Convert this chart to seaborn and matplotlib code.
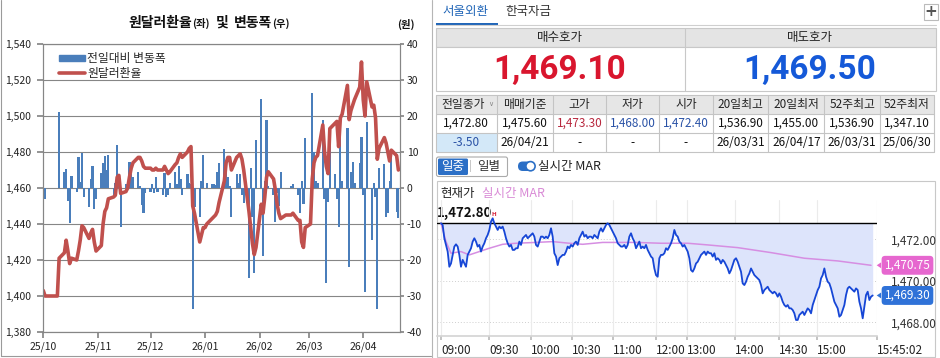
import numpy as np
import pandas as pd
import matplotlib
matplotlib.use("Agg")
import matplotlib.pyplot as plt
import matplotlib.dates as mdates
from matplotlib.patches import Rectangle, FancyBboxPatch, Patch, Polygon
from matplotlib.lines import Line2D
from matplotlib.transforms import blended_transform_factory
import seaborn as sns

# ---- daily data (left chart) ----
oct_rate = [1403, 1400, 1400, 1400, 1400, 1400, 1400, 1421, 1424, 1431, 1425, 1418, 1421, 1420,
            1425, 1431, 1439, 1438, 1432, 1435, 1437, 1430, 1425]
nov_rate = [1428, 1440, 1447, 1449, 1454, 1455, 1456, 1466, 1467, 1457, 1458, 1460, 1466, 1471,
            1474, 1477, 1477, 1475, 1472, 1471]
dec_rate = [1471, 1470, 1470, 1471, 1470, 1470, 1472, 1470, 1468, 1469, 1473, 1474, 1477, 1479,
            1477, 1480, 1482, 1483, 1450, 1446, 1430, 1434, 1438]
jan_rate = [1438, 1440, 1443, 1444, 1445, 1447, 1452, 1464, 1474, 1477, 1477, 1470, 1477, 1478,
            1479, 1476, 1470, 1447, 1438, 1429, 1423, 1427]
feb_rate = [1451, 1446, 1455, 1466, 1469, 1465, 1459, 1451, 1446, 1443, 1445, 1445, 1445, 1445,
            1446, 1442, 1442, 1430, 1427, 1438]
mar_rate = [1440, 1465, 1474, 1477, 1478, 1495, 1480, 1472, 1468, 1493, 1496, 1497, 1483, 1499,
            1501, 1517, 1498, 1503, 1506, 1509, 1516, 1530]
apr_rate = [1509, 1500, 1519, 1505, 1506, 1499, 1476, 1482, 1488, 1485, 1480, 1475, 1481, 1478, 1470]

oct_chg = [0, -3.1, 0, 0, 0, 0, 0, 21.1, 4.5, 5.2, -3.5, -9.8, 3.3, -1.0, 8.5, 1.8, 9.8, -2.4,
           -5.2, 2.5, 6.2, -5.9, -3.0]
nov_chg = [4.3, 6.9, 8.9, 5.0, 9.2, -2.0, 1.5, 12.0, 1.0, -10.7, 1.0, 2.0, 7.3, 4.0, 3.1, 4.4,
           0.5, -4.7, -6.9, -1.5]
dec_chg = [-1.0, 1.0, -1.5, 3.0, -1.0, -2.0, 4.3, -2.5, -2.0, 1.5, 4.5, 1.0, 6.2, 2.5, -2.0, 3.9,
           1.5, 1.0, -33.7, -5.2, -8.0, 2.0, 9.2]
jan_chg = [0, 1.5, 1.0, 1.2, 0.8, 4.5, 6.9, 10.7, 6.0, 3.0, 0.5, -8.0, 3.8, 1.5, 3.8, -2.0, -4.3,
           -25.1, 5.5, -8.0, -23.7, 13.3]
feb_chg = [24.6, -19.0, 2.0, 18.9, 0.5, -2.0, -9.4, -1.5, -5.0, 4.5, 0, 0, 0, 0.5, 1.0, -2.0,
           -7.0, 2.0, -4.5, 13.8]
mar_chg = [0, 26.3, 10.0, 2.0, 1.5, 18.9, -3.0, -26.3, -4.0, 12.4, 4.0, -3.0, -10.7, 16.6, 2.0,
           16.6, -21.9, 4.5, 7.3, 1.5, 7.0, 14.3]
apr_chg = [-2.0, -28.8, 18.4, -14.4, 1.5, -2.5, -33.7, 5.5, 6.7, -8.0, -7.0, 2.0, 9.2, -6.6, -8.4]

rate = oct_rate + nov_rate + dec_rate + jan_rate + feb_rate + mar_rate + apr_rate
chg = oct_chg + nov_chg + dec_chg + jan_chg + feb_chg + mar_chg + apr_chg
dates = pd.bdate_range("2025-10-01", "2026-04-21")

# ---- intraday data (right chart) ----
price = [
    1472.77, 1472.69, 1472.05, 1471.73, 1471.41, 1470.68, 1470.84, 1471.25, 1471.65, 1471.76,
    1471.65, 1471.25, 1470.68, 1471.01, 1470.84, 1470.68, 1471.25, 1471.41, 1471.57, 1471.89,
    1472.05, 1471.89, 1471.65, 1471.73, 1471.41, 1471.65, 1471.81, 1472.05, 1472.21, 1472.45,
    1472.85, 1473.01, 1472.77, 1472.61, 1472.45, 1472.61, 1472.53, 1472.61, 1472.37, 1472.05,
    1471.81, 1471.65, 1471.73, 1471.49, 1471.49, 1471.57, 1471.57, 1471.89, 1471.73, 1472.05,
    1472.13, 1472.21, 1472.05, 1472.13, 1472.21, 1472.29, 1472.13, 1471.73, 1471.65, 1471.89,
    1472.13, 1472.13, 1472.05, 1472.13, 1472.05, 1472.21, 1472.53, 1472.13, 1471.33, 1471.17,
    1470.76, 1471.09, 1471.17, 1471.25, 1471.25, 1471.41, 1471.65, 1471.57, 1471.73, 1471.65,
    1471.81, 1471.89, 1471.73, 1472.05, 1472.21, 1472.37, 1472.13, 1472.21, 1472.05, 1472.13,
    1472.13, 1472.05, 1472.21, 1472.13, 1472.05, 1472.37, 1472.53, 1472.37, 1472.53, 1472.69,
    1472.77, 1472.69, 1472.53, 1472.37, 1472.21, 1472.05, 1471.81, 1471.73, 1471.65, 1471.65,
    1471.73, 1471.57, 1471.73, 1472.13, 1472.29, 1472.05, 1471.89, 1471.57, 1471.73, 1471.89,
    1471.57, 1471.65, 1471.57, 1471.73, 1471.49, 1471.33, 1471.17, 1471.09, 1470.60, 1470.28,
    1470.20, 1471.09, 1471.25,
    1471.25, 1471.33, 1471.57, 1471.49, 1471.65, 1471.81, 1472.05, 1472.45, 1472.21, 1472.13,
    1471.89, 1471.81, 1471.65, 1471.73, 1471.57, 1471.41, 1471.09, 1470.52, 1470.44, 1470.60,
    1470.84, 1470.92, 1471.09, 1471.25, 1471.33, 1471.41, 1471.25, 1471.41, 1471.33, 1471.33,
    1471.17, 1471.33, 1471.01, 1471.09, 1471.01, 1470.84, 1471.01, 1470.92, 1470.76, 1470.60,
    1470.36, 1470.52, 1470.76, 1471.01, 1471.09, 1470.92, 1470.68, 1470.44, 1469.88, 1469.80,
    1469.96, 1470.20, 1470.36, 1470.60, 1470.44, 1470.28, 1470.20, 1470.12, 1470.04, 1469.80,
    1469.40, 1469.56, 1469.64, 1469.72, 1469.56, 1469.48, 1469.40, 1469.48, 1469.40, 1469.24,
    1469.40, 1469.24, 1469.00, 1468.84, 1468.76, 1468.84, 1468.68, 1468.68, 1468.60, 1468.44,
    1468.12, 1468.12, 1468.36, 1468.44, 1468.52, 1468.36, 1468.52, 1468.68, 1468.60, 1468.44,
    1468.84, 1469.08, 1469.32, 1469.56, 1469.72, 1470.12, 1470.28, 1470.60, 1470.20, 1469.96,
    1469.88, 1469.64, 1469.32, 1469.00, 1468.84, 1468.68, 1468.28, 1468.36, 1468.60, 1468.84,
    1469.32, 1469.64, 1469.72, 1469.64, 1469.56, 1469.48, 1469.64, 1469.56, 1469.00, 1468.68,
    1468.20, 1468.76, 1469.32, 1469.48, 1469.08, 1469.24, 1469.30,
]
mar_pos = [0, 3, 6, 12, 17, 23, 29, 37, 45, 57, 67, 77, 85, 97, 117, 132, 148, 160, 178, 198,
           218, 238, 258]
mar_val = [1472.77, 1471.89, 1471.33, 1471.41, 1471.25, 1471.41, 1471.57, 1471.76, 1471.81,
           1471.85, 1471.89, 1471.81, 1471.76, 1471.85, 1471.85, 1471.81, 1471.81, 1471.73,
           1471.60, 1471.36, 1471.09, 1470.96, 1470.75]
prev_close = 1472.80
mar_now = 1470.75
price_now = 1469.30
tick_pos = [0, 29.0, 54.0, 78.6, 103.0, 129.0, 147.8, 176.4, 203.0, 225.8, 261.4]
tick_lab = ["09:00", "09:30", "10:00", "10:30", "11:00", "12:00", "13:00", "14:00", "14:30",
            "15:00", "15:45:02"]

# ---- table data ----
tbl_head = ["전일종가", "매매기준", "고가", "저가", "시가", "20일최고", "20일최저", "52주최고", "52주최저"]
tbl_row1 = ["1,472.80", "1,475.60", "1,473.30", "1,468.00", "1,472.40", "1,536.90", "1,455.00",
            "1,536.90", "1,347.10"]
tbl_row2 = ["-3.50", "26/04/21", "-", "-", "-", "26/03/31", "26/04/17", "26/03/31", "25/06/30"]
bid, ask = "1,469.10", "1,469.50"

sns.set_theme(style="white")
plt.rcParams['font.family'] = ['Noto Sans CJK KR', 'DejaVu Sans']
plt.rcParams['axes.unicode_minus'] = False

W, H = 940, 358
fig = plt.figure(figsize=(W / 100, H / 100), dpi=100)
fig.patch.set_facecolor("white")


def box(l, t, r, b):
    return [l / W, 1 - b / H, (r - l) / W, (b - t) / H]


ov = fig.add_axes([0, 0, 1, 1])
ov.set_xlim(0, W)
ov.set_ylim(H, 0)
ov.axis("off")

BLUE = "#4A7EBB"
RED = "#C0504D"
GRID = "#868686"

# ================= left chart =================
ax = fig.add_axes(box(43.3, 44, 400, 332))
ax2 = ax.twinx()
ax2.bar(dates, chg, width=1.25, color=BLUE, lw=0, zorder=2)
ax2.set_ylim(-40, 40)
ax2.set_yticks(range(-40, 41, 10))
ax2.yaxis.grid(True, color=GRID, lw=0.8)
ax2.set_axisbelow(True)

ax.set_zorder(ax2.get_zorder() + 1)
ax.patch.set_visible(False)
sns.lineplot(x=dates, y=rate, ax=ax, color=RED, linewidth=2.6)
ax.set_ylim(1380, 1540)
ax.set_yticks(range(1380, 1541, 20))
ax.set_yticklabels([f"{v:,}" for v in range(1380, 1541, 20)])
ax.set_xlim(pd.Timestamp("2025-10-01"), pd.Timestamp("2026-04-21 22:00"))
ax.xaxis.set_major_locator(mdates.MonthLocator())
ax.xaxis.set_major_formatter(mdates.DateFormatter("%y/%m"))
ax.set_xlabel("")
ax.set_ylabel("")
ax2.set_ylabel("")
for a in (ax, ax2):
    for s in a.spines.values():
        s.set_color(GRID)
        s.set_linewidth(0.8)
ax.tick_params(axis="y", labelsize=7.5, length=4, pad=5, colors=GRID, labelcolor="#222",
               left=True, direction="out")
ax.tick_params(axis="x", labelsize=7.5, length=4, color=GRID, pad=3, labelcolor="#222",
               direction="out", bottom=True)
ax2.tick_params(axis="y", labelsize=7.5, length=3, color=GRID, labelcolor="#222", pad=2,
                right=True, direction="out")

handles = [Patch(color=BLUE), Line2D([], [], color=RED, lw=2.6)]
ax.legend(handles, ["전일대비 변동폭", "원달러환율"], loc="upper left", bbox_to_anchor=(0.02, 1.0),
          frameon=False, fontsize=8.5, handlelength=2.2, handleheight=0.45,
          handletextpad=0.2, labelspacing=0.15, borderaxespad=0.3)

renderer = fig.canvas.get_renderer()


def chain(x, y, parts):
    for s, size, gap in parts:
        t = ov.text(x, y, s, fontsize=size, fontweight="bold", ha="left", va="baseline",
                    color="#111")
        x += t.get_window_extent(renderer=renderer).width + gap


chain(128, 27, [("원달러환율", 10, 0.5), ("(좌)", 7.5, 6), ("및", 10, 5), ("변동폭", 10, 0.5),
                ("(우)", 7.5, 0)])
ov.text(406, 28, "(원)", fontsize=7.5, fontweight="bold", ha="center", va="baseline", color="#111")

# frame lines
ov.plot([1, 1], [0, 355.5], color="#9a9a9a", lw=0.8)
ov.plot([1, 431], [355.5, 355.5], color="#9a9a9a", lw=0.8)
ov.plot([431.5, 431.5], [0, H], color="#b5b5b5", lw=0.8)

# ================= right panel =================
TABBLUE = "#2166b8"
ov.text(465, 12, "서울외환", fontsize=9, color=TABBLUE, ha="center", va="center")
ov.text(528, 12, "한국자금", fontsize=9, color="#333", ha="center", va="center")
ov.plot([436, 936], [25, 25], color="#cfcfcf", lw=0.8)
ov.add_patch(Rectangle((436, 22.5), 62, 2.2, fc=TABBLUE, ec="none"))
ov.add_patch(Rectangle((924, 4), 13.5, 16, fc="white", ec="#bbbbbb", lw=0.8))
ov.text(930.8, 12, "+", fontsize=11, fontweight="bold", color="#555", ha="center", va="center",
        family="DejaVu Sans")

# bid / ask block
ov.add_patch(Rectangle((436, 28), 500, 19, fc="#e4e4e4", ec="#c8c8c8", lw=0.8))
ov.add_patch(Rectangle((436, 47), 500, 44, fc="white", ec="#c8c8c8", lw=0.8))
ov.plot([685, 685], [28, 91], color="#c8c8c8", lw=0.8)
ov.text(560, 38, "매수호가", fontsize=9, color="#222", ha="center", va="center")
ov.text(810, 38, "매도호가", fontsize=9, color="#222", ha="center", va="center")
ov.text(560, 70, bid, fontsize=24, fontweight="bold", color="#d9162e", ha="center", va="center",
        family="Roboto")
ov.text(810, 70, ask, fontsize=24, fontweight="bold", color="#1559d8", ha="center", va="center",
        family="Roboto")

# info table
col_x = [436, 496.7, 553.3, 606, 659.3, 712.7, 768.3, 824.3, 880, 934]
row_y = [95, 114, 133, 151.5]
ov.add_patch(Rectangle((436, 95), 498, 19, fc="#e6e6e6", ec="none"))
ov.add_patch(Rectangle((436, 133), 60.7, 18.5, fc="#d3e8f8", ec="none"))
for xx in col_x:
    ov.plot([xx, xx], [95, 151.5], color="#c4c4c4", lw=0.8)
for yy in row_y:
    ov.plot([436, 934], [yy, yy], color="#c4c4c4", lw=0.8)
row1_col = ["#111", "#111", "#b8283e", "#2a52a6", "#2a52a6", "#111", "#111", "#111", "#111"]
row2_col = ["#2a52a6"] + ["#111"] * 8
for i in range(9):
    cx = (col_x[i] + col_x[i + 1]) / 2
    hx = cx - 3 if i == 0 else cx
    ov.text(hx, 104.5, tbl_head[i], fontsize=8.5, color="#222", ha="center", va="center")
    ov.text(cx, 123.5, tbl_row1[i], fontsize=8.5, color=row1_col[i], ha="center", va="center")
    ov.text(cx, 142.3, tbl_row2[i], fontsize=8.5, color=row2_col[i], ha="center", va="center")
ov.text(491, 104, "∨", fontsize=5, color="#888", ha="center", va="center", family="DejaVu Sans")

# 일중 / 일별 toggle
ov.add_patch(FancyBboxPatch((436.5, 157), 71, 19.5, boxstyle="round,pad=0,rounding_size=2",
                            fc="white", ec="#aaaaaa", lw=0.8))
ov.add_patch(FancyBboxPatch((438, 158.5), 30, 16.5, boxstyle="round,pad=0,rounding_size=1.5",
                            fc="#2b6fc6", ec="none"))
ov.text(453, 166.5, "일중", fontsize=9, color="white", ha="center", va="center")
ov.text(470.5, 166.5, "|", fontsize=7, color="#aaa", ha="center", va="center")
ov.text(489, 166.5, "일별", fontsize=9, color="#333", ha="center", va="center")
ov.add_patch(FancyBboxPatch((518, 161.5), 17, 9.5, boxstyle="round,pad=0,rounding_size=4.7",
                            fc="#2b6fc6", ec="none"))
ov.add_patch(plt.Circle((530.5, 166.2), 4.6, fc="white", ec="#2b6fc6", lw=1.2))
ov.text(537.5, 166.5, "실시간 MAR", fontsize=9, color="#222", ha="left", va="center")

# intraday box
ov.add_patch(Rectangle((436.5, 181), 498.5, 176, fc="none", ec="#c8c8c8", lw=0.8))
ov.text(440, 193.5, "현재가", fontsize=9, color="#222", ha="left", va="center")
ov.text(482, 193.5, "실시간 MAR", fontsize=9, color="#d98ad6", ha="left", va="center")
ov.text(437, 213, "1,472.80", fontsize=9.5, fontweight="bold", color="#111", ha="left",
        va="center")
ov.text(493.5, 214, "H", fontsize=4, fontweight="bold", color="#d8283e", ha="center", va="center",
        family="DejaVu Sans")

# ================= intraday chart =================
ax_i = fig.add_axes(box(437, 200, 876.7, 336))
ax_i.patch.set_visible(False)
idx = np.arange(len(price))
ax_i.fill_between(idx, price, prev_close, color="#dde4fb", lw=0, zorder=1)
for v in (1468, 1470, 1472):
    ax_i.axhline(v, color="#cfcfcf", lw=0.7, ls=(0, (1, 2)), zorder=0)
ax_i.axhline(prev_close, color="black", lw=1.0, zorder=3)
sns.lineplot(x=mar_pos, y=mar_val, ax=ax_i, color="#d68ee2", linewidth=1.1, zorder=4)
sns.lineplot(x=idx, y=price, ax=ax_i, color="#1646d6", linewidth=1.3, zorder=5)
ax_i.set_xlim(-2.4, 261.4)
ax_i.set_ylim(1467.35, 1473.89)
ax_i.set_xticks(tick_pos)
ax_i.set_xticklabels(tick_lab, ha="left")
ax_i.grid(axis="x", color="#ebebeb", lw=0.8)
ax_i.set_yticks([1468, 1470, 1472])
ax_i.set_yticklabels(["1,468.00", "1,470.00", "1,472.00"])
ax_i.yaxis.tick_right()
ax_i.tick_params(axis="y", length=0, pad=10, labelsize=8.5, labelcolor="#333")
ax_i.tick_params(axis="x", length=3, color="#bbbbbb", pad=3, labelsize=8.5, labelcolor="#222",
                 bottom=True)
ax_i.set_xlabel("")
ax_i.set_ylabel("")
for name, s in ax_i.spines.items():
    s.set_visible(name == "bottom")
ax_i.spines["bottom"].set_color("#d5d5d5")

tr = blended_transform_factory(ax_i.transAxes, ax_i.transData)
for val, fc in ((mar_now, "#e667cf"), (price_now, "#2f72d8")):
    ax_i.text(1.07, val, f"{val:,.2f}", transform=tr, fontsize=8.5, color="white", ha="center",
              va="center", clip_on=False, zorder=10,
              bbox=dict(boxstyle="round,pad=0.25,rounding_size=0.3", fc=fc, ec="none"))
    ax_i.add_patch(Polygon([[1.000, val], [1.010, val + 0.14], [1.010, val - 0.14]],
                           closed=True, transform=tr, fc=fc, ec="none", clip_on=False, zorder=10))

fig.savefig("out.png", dpi=100, facecolor="white")
